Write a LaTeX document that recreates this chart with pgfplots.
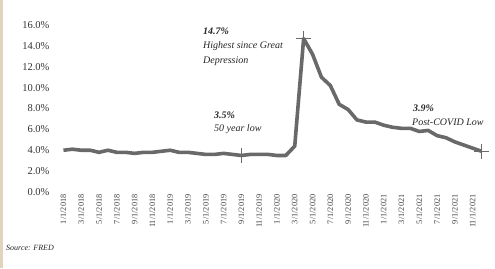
\documentclass[border=0pt]{standalone}
\usepackage{fontspec}
\setmainfont{Liberation Serif}
\usepackage{pgfplots}
\pgfplotsset{compat=1.18}
\definecolor{linegray}{RGB}{105,105,105}
\definecolor{scan}{RGB}{226,212,188}
\begin{document}
\begin{tikzpicture}[x=1pt,y=1pt]
\useasboundingbox (0,0) rectangle (495,268);
\fill[white] (0,0) rectangle (495,268);
\fill[scan] (0,0) rectangle (2.5,268);
\begin{axis}[
  at={(59pt,76pt)}, anchor=south west,
  scale only axis, width=427pt, height=167pt,
  xmin=-0.5, xmax=47.5, ymin=0, ymax=16,
  axis line style={draw=none}, major tick length=0pt,
  clip=false,
  /pgf/number format/assume math mode=true,
  ytick={0,2,...,16},
  yticklabel={\pgfmathprintnumber[fixed,fixed zerofill,precision=1]{\tick}\%},
  yticklabel style={font=\fontsize{10.5}{11}\selectfont, text=black!80, xshift=-6pt},
  xtick={0,2,...,46},
  xticklabels={1/1/2018,3/1/2018,5/1/2018,7/1/2018,9/1/2018,11/1/2018,
    1/1/2019,3/1/2019,5/1/2019,7/1/2019,9/1/2019,11/1/2019,
    1/1/2020,3/1/2020,5/1/2020,7/1/2020,9/1/2020,11/1/2020,
    1/1/2021,3/1/2021,5/1/2021,7/1/2021,9/1/2021,11/1/2021},
  xticklabel style={rotate=90, anchor=east, font=\fontsize{8.3}{9}\selectfont, text=black!75, xshift=1pt},
]
\addplot[linegray, line width=3.6pt, line join=round] coordinates {
(0,4.0)(1,4.1)(2,4.0)(3,4.0)(4,3.8)(5,4.0)(6,3.8)(7,3.8)(8,3.7)(9,3.8)(10,3.8)(11,3.9)
(12,4.0)(13,3.8)(14,3.8)(15,3.7)(16,3.6)(17,3.6)(18,3.7)(19,3.6)(20,3.5)(21,3.6)(22,3.6)(23,3.6)
(24,3.5)(25,3.5)(26,4.4)(27,14.7)(28,13.2)(29,11.0)(30,10.2)(31,8.4)(32,7.9)(33,6.9)(34,6.7)(35,6.7)
(36,6.4)(37,6.2)(38,6.1)(39,6.1)(40,5.8)(41,5.9)(42,5.4)(43,5.2)(44,4.8)(45,4.5)(46,4.2)(47,3.9)
};
\addplot[only marks, mark=+, mark size=7.5pt, line width=1.3pt, color=linegray] coordinates {(20,3.5)(27,14.7)(47,3.9)};
\end{axis}
\begin{scope}[every node/.style={anchor=west, inner sep=0pt, font=\fontsize{10}{11}\selectfont\itshape, text=black!85}]
\node at (203,237) {\bfseries 14.7\%};
\node at (203,222) {Highest since Great};
\node at (203,207) {Depression};
\node at (214,153) {\bfseries 3.5\%};
\node at (214,139) {50 year low};
\node at (413,160) {\bfseries 3.9\%};
\node at (412,146) {Post-COVID Low};
\node[font=\fontsize{8}{9}\selectfont\itshape] at (6,20) {Source: FRED};
\end{scope}
\end{tikzpicture}
\end{document}
